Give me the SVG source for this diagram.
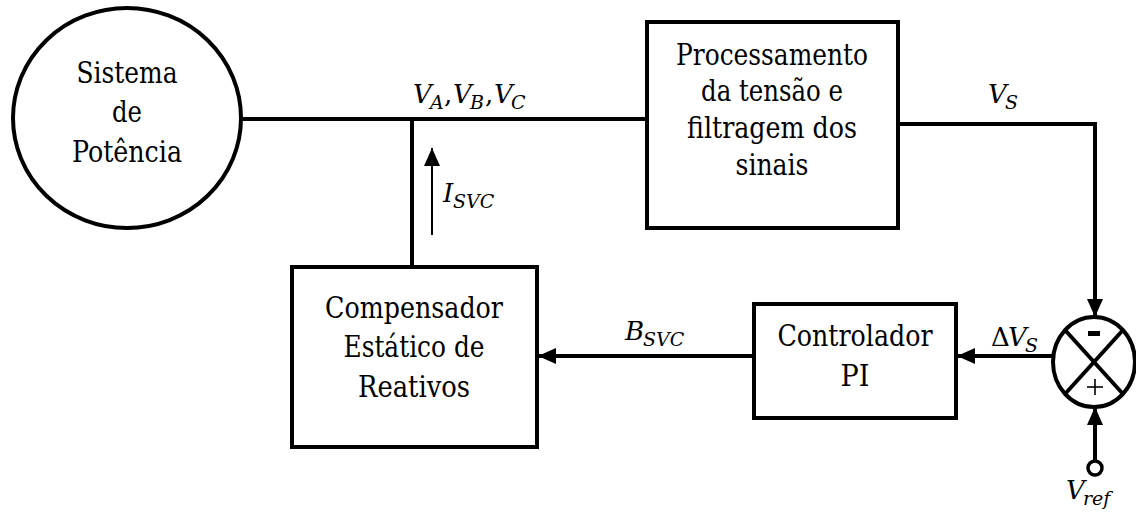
<svg xmlns="http://www.w3.org/2000/svg" width="1136" height="521" viewBox="0 0 1136 521">
<style>
.blk{fill:#fff;stroke:#000;stroke-width:4}
.ln{fill:none;stroke:#000;stroke-width:4}
.t{font-family:"DejaVu Serif Condensed","DejaVu Serif","Liberation Serif",serif;font-stretch:condensed;font-size:29px;fill:#000;text-anchor:middle}
.m{font-family:"DejaVu Serif","Liberation Serif",serif;font-style:italic;font-size:26px;fill:#000}
.s{font-size:19px}
.u{font-style:normal}
</style>
<defs>
<marker id="ah" markerUnits="userSpaceOnUse" markerWidth="18" markerHeight="18" viewBox="0 0 18 18" refX="18" refY="9" orient="auto">
<path d="M0,1 L18,9 L0,17 Z" fill="#000"/>
</marker>
<marker id="ahs" markerUnits="userSpaceOnUse" markerWidth="18" markerHeight="16" viewBox="0 0 18 16" refX="18" refY="8" orient="auto">
<path d="M0,0 L18,8 L0,16 Z" fill="#000"/>
</marker>
</defs>
<rect width="1136" height="521" fill="#fff"/>
<g id="connectors">
<line class="ln" x1="241" y1="119" x2="649" y2="119"/>
<line class="ln" x1="412" y1="119" x2="412" y2="267"/>
<polyline class="ln" points="898,124 1095,124 1095,317" marker-end="url(#ah)"/>
<line class="ln" x1="1053" y1="356" x2="957" y2="356" marker-end="url(#ah)"/>
<line class="ln" x1="753" y1="356" x2="538" y2="356" marker-end="url(#ah)"/>
<line class="ln" x1="1095" y1="460" x2="1095" y2="407" marker-end="url(#ah)"/>
<line x1="432" y1="235" x2="432" y2="148" stroke="#000" stroke-width="2" marker-end="url(#ahs)"/>
</g>
<g id="sistema">
<ellipse class="blk" cx="127" cy="118" rx="114" ry="110"/>
<text class="t" x="127" y="83" textLength="101" lengthAdjust="spacingAndGlyphs">Sistema</text>
<text class="t" x="127" y="122" textLength="30" lengthAdjust="spacingAndGlyphs">de</text>
<text class="t" x="127" y="162" textLength="110" lengthAdjust="spacingAndGlyphs">Potência</text>
</g>
<g id="processamento">
<rect class="blk" x="647" y="22" width="251" height="206"/>
<text class="t" x="772" y="65" textLength="192" lengthAdjust="spacingAndGlyphs">Processamento</text>
<text class="t" x="772" y="101" textLength="142" lengthAdjust="spacingAndGlyphs">da tensão e</text>
<text class="t" x="772" y="138" textLength="170" lengthAdjust="spacingAndGlyphs">filtragem dos</text>
<text class="t" x="772" y="175" textLength="73" lengthAdjust="spacingAndGlyphs">sinais</text>
</g>
<g id="compensador">
<rect class="blk" x="292" y="267" width="245" height="180"/>
<text class="t" x="414" y="318" textLength="178" lengthAdjust="spacingAndGlyphs">Compensador</text>
<text class="t" x="414" y="357" textLength="141" lengthAdjust="spacingAndGlyphs">Estático de</text>
<text class="t" x="414" y="397" textLength="112" lengthAdjust="spacingAndGlyphs">Reativos</text>
</g>
<g id="controlador">
<rect class="blk" x="754" y="304" width="202" height="114"/>
<text class="t" x="855" y="346" textLength="155" lengthAdjust="spacingAndGlyphs">Controlador</text>
<text class="t" x="855" y="386" textLength="29" lengthAdjust="spacingAndGlyphs">PI</text>
</g>
<g id="somador">
<ellipse class="blk" cx="1094" cy="362" rx="41" ry="45"/>
<line class="ln" x1="1065" y1="330" x2="1123" y2="394"/>
<line class="ln" x1="1123" y1="330" x2="1065" y2="394"/>
<rect x="1088" y="331" width="12" height="5" fill="#000"/>
<line x1="1087" y1="387" x2="1103" y2="387" stroke="#000" stroke-width="1.6"/>
<line x1="1095" y1="379" x2="1095" y2="395" stroke="#000" stroke-width="1.6"/>
</g>
<g id="vref">
<circle cx="1095" cy="468" r="7" fill="#fff" stroke="#000" stroke-width="3.5"/>
</g>
<g id="labels">
<text class="m"><tspan x="413" y="103">V</tspan><tspan class="s" x="430" y="109">A</tspan><tspan class="u" x="444" y="103">,</tspan><tspan x="453" y="103">V</tspan><tspan class="s" x="470" y="109">B</tspan><tspan class="u" x="485" y="103">,</tspan><tspan x="494" y="103">V</tspan><tspan class="s" x="511" y="109">C</tspan></text>
<text class="m"><tspan x="443" y="202">I</tspan><tspan class="s" x="453" y="208">SVC</tspan></text>
<text class="m"><tspan x="988" y="103">V</tspan><tspan class="s" x="1005" y="109">S</tspan></text>
<text class="m"><tspan x="625" y="340">B</tspan><tspan class="s" x="643" y="346">SVC</tspan></text>
<text class="m"><tspan class="u" x="991" y="346">Δ</tspan><tspan x="1008" y="346">V</tspan><tspan class="s" x="1025" y="352">S</tspan></text>
<text class="m"><tspan x="1066" y="499">V</tspan><tspan class="s" x="1083" y="505">ref</tspan></text>
</g>
</svg>
